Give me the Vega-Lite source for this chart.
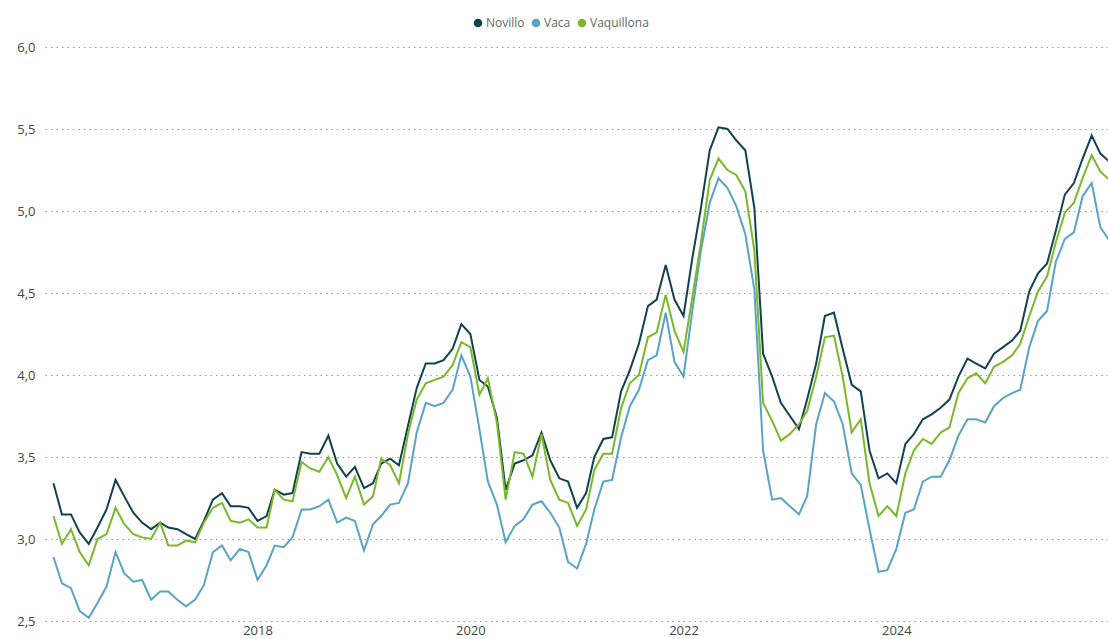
{
  "$schema": "https://vega.github.io/schema/vega-lite/v6.json",
  "width": 1063,
  "height": 574,
  "autosize": {"type": "none"},
  "padding": {"left": 45, "top": 47, "right": 0, "bottom": 18},
  "background": "white",
  "data": {"values": [
    {"mes":"2016-02-01","Novillo":3.34,"Vaca":2.89,"Vaquillona":3.14},
    {"mes":"2016-03-01","Novillo":3.15,"Vaca":2.73,"Vaquillona":2.97},
    {"mes":"2016-04-01","Novillo":3.15,"Vaca":2.70,"Vaquillona":3.06},
    {"mes":"2016-05-01","Novillo":3.04,"Vaca":2.56,"Vaquillona":2.92},
    {"mes":"2016-06-01","Novillo":2.97,"Vaca":2.52,"Vaquillona":2.84},
    {"mes":"2016-07-01","Novillo":3.07,"Vaca":2.61,"Vaquillona":3.00},
    {"mes":"2016-08-01","Novillo":3.18,"Vaca":2.71,"Vaquillona":3.03},
    {"mes":"2016-09-01","Novillo":3.36,"Vaca":2.92,"Vaquillona":3.19},
    {"mes":"2016-10-01","Novillo":3.26,"Vaca":2.79,"Vaquillona":3.09},
    {"mes":"2016-11-01","Novillo":3.16,"Vaca":2.74,"Vaquillona":3.03},
    {"mes":"2016-12-01","Novillo":3.10,"Vaca":2.75,"Vaquillona":3.01},
    {"mes":"2017-01-01","Novillo":3.06,"Vaca":2.63,"Vaquillona":3.00},
    {"mes":"2017-02-01","Novillo":3.10,"Vaca":2.68,"Vaquillona":3.10},
    {"mes":"2017-03-01","Novillo":3.07,"Vaca":2.68,"Vaquillona":2.96},
    {"mes":"2017-04-01","Novillo":3.06,"Vaca":2.63,"Vaquillona":2.96},
    {"mes":"2017-05-01","Novillo":3.03,"Vaca":2.59,"Vaquillona":2.99},
    {"mes":"2017-06-01","Novillo":3.00,"Vaca":2.63,"Vaquillona":2.98},
    {"mes":"2017-07-01","Novillo":3.11,"Vaca":2.72,"Vaquillona":3.10},
    {"mes":"2017-08-01","Novillo":3.24,"Vaca":2.92,"Vaquillona":3.19},
    {"mes":"2017-09-01","Novillo":3.28,"Vaca":2.96,"Vaquillona":3.22},
    {"mes":"2017-10-01","Novillo":3.20,"Vaca":2.87,"Vaquillona":3.11},
    {"mes":"2017-11-01","Novillo":3.20,"Vaca":2.94,"Vaquillona":3.10},
    {"mes":"2017-12-01","Novillo":3.19,"Vaca":2.92,"Vaquillona":3.12},
    {"mes":"2018-01-01","Novillo":3.11,"Vaca":2.75,"Vaquillona":3.07},
    {"mes":"2018-02-01","Novillo":3.14,"Vaca":2.84,"Vaquillona":3.07},
    {"mes":"2018-03-01","Novillo":3.30,"Vaca":2.96,"Vaquillona":3.30},
    {"mes":"2018-04-01","Novillo":3.27,"Vaca":2.95,"Vaquillona":3.24},
    {"mes":"2018-05-01","Novillo":3.28,"Vaca":3.01,"Vaquillona":3.23},
    {"mes":"2018-06-01","Novillo":3.53,"Vaca":3.18,"Vaquillona":3.47},
    {"mes":"2018-07-01","Novillo":3.52,"Vaca":3.18,"Vaquillona":3.43},
    {"mes":"2018-08-01","Novillo":3.52,"Vaca":3.20,"Vaquillona":3.41},
    {"mes":"2018-09-01","Novillo":3.63,"Vaca":3.24,"Vaquillona":3.50},
    {"mes":"2018-10-01","Novillo":3.46,"Vaca":3.10,"Vaquillona":3.39},
    {"mes":"2018-11-01","Novillo":3.38,"Vaca":3.13,"Vaquillona":3.25},
    {"mes":"2018-12-01","Novillo":3.44,"Vaca":3.11,"Vaquillona":3.38},
    {"mes":"2019-01-01","Novillo":3.31,"Vaca":2.93,"Vaquillona":3.21},
    {"mes":"2019-02-01","Novillo":3.34,"Vaca":3.09,"Vaquillona":3.26},
    {"mes":"2019-03-01","Novillo":3.46,"Vaca":3.14,"Vaquillona":3.49},
    {"mes":"2019-04-01","Novillo":3.49,"Vaca":3.21,"Vaquillona":3.45},
    {"mes":"2019-05-01","Novillo":3.45,"Vaca":3.22,"Vaquillona":3.34},
    {"mes":"2019-06-01","Novillo":3.69,"Vaca":3.34,"Vaquillona":3.64},
    {"mes":"2019-07-01","Novillo":3.92,"Vaca":3.65,"Vaquillona":3.85},
    {"mes":"2019-08-01","Novillo":4.07,"Vaca":3.83,"Vaquillona":3.95},
    {"mes":"2019-09-01","Novillo":4.07,"Vaca":3.81,"Vaquillona":3.97},
    {"mes":"2019-10-01","Novillo":4.09,"Vaca":3.83,"Vaquillona":3.99},
    {"mes":"2019-11-01","Novillo":4.16,"Vaca":3.91,"Vaquillona":4.06},
    {"mes":"2019-12-01","Novillo":4.31,"Vaca":4.12,"Vaquillona":4.20},
    {"mes":"2020-01-01","Novillo":4.25,"Vaca":3.99,"Vaquillona":4.17},
    {"mes":"2020-02-01","Novillo":3.97,"Vaca":3.67,"Vaquillona":3.88},
    {"mes":"2020-03-01","Novillo":3.93,"Vaca":3.35,"Vaquillona":3.98},
    {"mes":"2020-04-01","Novillo":3.74,"Vaca":3.21,"Vaquillona":3.71},
    {"mes":"2020-05-01","Novillo":3.30,"Vaca":2.98,"Vaquillona":3.24},
    {"mes":"2020-06-01","Novillo":3.46,"Vaca":3.08,"Vaquillona":3.53},
    {"mes":"2020-07-01","Novillo":3.48,"Vaca":3.12,"Vaquillona":3.52},
    {"mes":"2020-08-01","Novillo":3.51,"Vaca":3.21,"Vaquillona":3.38},
    {"mes":"2020-09-01","Novillo":3.65,"Vaca":3.23,"Vaquillona":3.64},
    {"mes":"2020-10-01","Novillo":3.48,"Vaca":3.16,"Vaquillona":3.36},
    {"mes":"2020-11-01","Novillo":3.37,"Vaca":3.07,"Vaquillona":3.24},
    {"mes":"2020-12-01","Novillo":3.35,"Vaca":2.86,"Vaquillona":3.22},
    {"mes":"2021-01-01","Novillo":3.19,"Vaca":2.82,"Vaquillona":3.08},
    {"mes":"2021-02-01","Novillo":3.28,"Vaca":2.97,"Vaquillona":3.18},
    {"mes":"2021-03-01","Novillo":3.50,"Vaca":3.18,"Vaquillona":3.42},
    {"mes":"2021-04-01","Novillo":3.61,"Vaca":3.35,"Vaquillona":3.52},
    {"mes":"2021-05-01","Novillo":3.62,"Vaca":3.36,"Vaquillona":3.52},
    {"mes":"2021-06-01","Novillo":3.90,"Vaca":3.62,"Vaquillona":3.80},
    {"mes":"2021-07-01","Novillo":4.03,"Vaca":3.81,"Vaquillona":3.95},
    {"mes":"2021-08-01","Novillo":4.19,"Vaca":3.91,"Vaquillona":4.00},
    {"mes":"2021-09-01","Novillo":4.42,"Vaca":4.09,"Vaquillona":4.23},
    {"mes":"2021-10-01","Novillo":4.46,"Vaca":4.12,"Vaquillona":4.26},
    {"mes":"2021-11-01","Novillo":4.67,"Vaca":4.38,"Vaquillona":4.49},
    {"mes":"2021-12-01","Novillo":4.46,"Vaca":4.08,"Vaquillona":4.27},
    {"mes":"2022-01-01","Novillo":4.36,"Vaca":3.99,"Vaquillona":4.14},
    {"mes":"2022-02-01","Novillo":4.72,"Vaca":4.40,"Vaquillona":4.48},
    {"mes":"2022-03-01","Novillo":5.01,"Vaca":4.75,"Vaquillona":4.80},
    {"mes":"2022-04-01","Novillo":5.37,"Vaca":5.05,"Vaquillona":5.19},
    {"mes":"2022-05-01","Novillo":5.51,"Vaca":5.20,"Vaquillona":5.32},
    {"mes":"2022-06-01","Novillo":5.50,"Vaca":5.14,"Vaquillona":5.25},
    {"mes":"2022-07-01","Novillo":5.43,"Vaca":5.03,"Vaquillona":5.22},
    {"mes":"2022-08-01","Novillo":5.37,"Vaca":4.86,"Vaquillona":5.12},
    {"mes":"2022-09-01","Novillo":5.02,"Vaca":4.52,"Vaquillona":4.76},
    {"mes":"2022-10-01","Novillo":4.13,"Vaca":3.54,"Vaquillona":3.83},
    {"mes":"2022-11-01","Novillo":3.99,"Vaca":3.24,"Vaquillona":3.72},
    {"mes":"2022-12-01","Novillo":3.83,"Vaca":3.25,"Vaquillona":3.60},
    {"mes":"2023-01-01","Novillo":3.75,"Vaca":3.20,"Vaquillona":3.64},
    {"mes":"2023-02-01","Novillo":3.67,"Vaca":3.15,"Vaquillona":3.70},
    {"mes":"2023-03-01","Novillo":3.85,"Vaca":3.26,"Vaquillona":3.78},
    {"mes":"2023-04-01","Novillo":4.07,"Vaca":3.70,"Vaquillona":3.99},
    {"mes":"2023-05-01","Novillo":4.36,"Vaca":3.89,"Vaquillona":4.23},
    {"mes":"2023-06-01","Novillo":4.38,"Vaca":3.84,"Vaquillona":4.24},
    {"mes":"2023-07-01","Novillo":4.16,"Vaca":3.70,"Vaquillona":3.99},
    {"mes":"2023-08-01","Novillo":3.94,"Vaca":3.40,"Vaquillona":3.65},
    {"mes":"2023-09-01","Novillo":3.90,"Vaca":3.33,"Vaquillona":3.73},
    {"mes":"2023-10-01","Novillo":3.54,"Vaca":3.06,"Vaquillona":3.34},
    {"mes":"2023-11-01","Novillo":3.37,"Vaca":2.80,"Vaquillona":3.14},
    {"mes":"2023-12-01","Novillo":3.40,"Vaca":2.81,"Vaquillona":3.20},
    {"mes":"2024-01-01","Novillo":3.34,"Vaca":2.94,"Vaquillona":3.14},
    {"mes":"2024-02-01","Novillo":3.58,"Vaca":3.16,"Vaquillona":3.40},
    {"mes":"2024-03-01","Novillo":3.64,"Vaca":3.18,"Vaquillona":3.54},
    {"mes":"2024-04-01","Novillo":3.73,"Vaca":3.35,"Vaquillona":3.61},
    {"mes":"2024-05-01","Novillo":3.76,"Vaca":3.38,"Vaquillona":3.58},
    {"mes":"2024-06-01","Novillo":3.80,"Vaca":3.38,"Vaquillona":3.65},
    {"mes":"2024-07-01","Novillo":3.85,"Vaca":3.48,"Vaquillona":3.68},
    {"mes":"2024-08-01","Novillo":3.99,"Vaca":3.63,"Vaquillona":3.89},
    {"mes":"2024-09-01","Novillo":4.10,"Vaca":3.73,"Vaquillona":3.98},
    {"mes":"2024-10-01","Novillo":4.07,"Vaca":3.73,"Vaquillona":4.01},
    {"mes":"2024-11-01","Novillo":4.04,"Vaca":3.71,"Vaquillona":3.95},
    {"mes":"2024-12-01","Novillo":4.13,"Vaca":3.81,"Vaquillona":4.05},
    {"mes":"2025-01-01","Novillo":4.17,"Vaca":3.86,"Vaquillona":4.08},
    {"mes":"2025-02-01","Novillo":4.21,"Vaca":3.89,"Vaquillona":4.12},
    {"mes":"2025-03-01","Novillo":4.27,"Vaca":3.91,"Vaquillona":4.19},
    {"mes":"2025-04-01","Novillo":4.51,"Vaca":4.17,"Vaquillona":4.36},
    {"mes":"2025-05-01","Novillo":4.62,"Vaca":4.33,"Vaquillona":4.51},
    {"mes":"2025-06-01","Novillo":4.68,"Vaca":4.39,"Vaquillona":4.60},
    {"mes":"2025-07-01","Novillo":4.88,"Vaca":4.69,"Vaquillona":4.81},
    {"mes":"2025-08-01","Novillo":5.10,"Vaca":4.83,"Vaquillona":4.99},
    {"mes":"2025-09-01","Novillo":5.17,"Vaca":4.87,"Vaquillona":5.05},
    {"mes":"2025-10-01","Novillo":5.32,"Vaca":5.09,"Vaquillona":5.20},
    {"mes":"2025-11-01","Novillo":5.46,"Vaca":5.17,"Vaquillona":5.34},
    {"mes":"2025-12-01","Novillo":5.35,"Vaca":4.90,"Vaquillona":5.24},
    {"mes":"2026-01-01","Novillo":5.30,"Vaca":4.82,"Vaquillona":5.19}
  ]},
  "transform": [{"fold": ["Novillo", "Vaca", "Vaquillona"], "as": ["serie", "valor"]}],
  "mark": {"type": "line", "strokeWidth": 2, "clip": true},
  "encoding": {
    "x": {
      "field": "mes",
      "type": "temporal",
      "scale": {"type": "utc", "domain": [{"year": 2016, "month": 1, "date": 3, "utc": true}, {"year": 2025, "month": 12, "date": 27, "utc": true}]},
      "axis": {
        "values": [{"year": 2018, "month": 1, "date": 1, "utc": true}, {"year": 2020, "month": 1, "date": 1, "utc": true}, {"year": 2022, "month": 1, "date": 1, "utc": true}, {"year": 2024, "month": 1, "date": 1, "utc": true}],
        "format": "%Y",
        "formatType": "utc",
        "title": null,
        "grid": false,
        "ticks": false,
        "domain": false,
        "labelPadding": 3,
        "labelFlush": false,
        "labelFont": "Open Sans",
        "labelFontSize": 13,
        "labelColor": "#444444"
      }
    },
    "y": {
      "field": "valor",
      "type": "quantitative",
      "scale": {"domain": [2.5, 6], "nice": false, "zero": false},
      "axis": {
        "values": [2.5, 3, 3.5, 4, 4.5, 5, 5.5, 6],
        "labelExpr": "replace(format(datum.value, '.1f'), '.', ',')",
        "title": null,
        "grid": true,
        "gridDash": [1.5, 4],
        "gridColor": "#999999",
        "gridWidth": 1,
        "ticks": false,
        "domain": false,
        "labelPadding": 10,
        "labelFont": "Open Sans",
        "labelFontSize": 13,
        "labelColor": "#444444"
      }
    },
    "color": {
      "field": "serie",
      "type": "nominal",
      "scale": {"domain": ["Novillo", "Vaca", "Vaquillona"], "range": ["#12414f", "#59a3c4", "#79b82a"]},
      "legend": {
        "title": null,
        "orient": "none",
        "direction": "horizontal",
        "legendX": 427,
        "legendY": -30,
        "symbolType": "circle",
        "symbolSize": 75,
        "symbolStrokeWidth": 0,
        "labelOffset": 2,
        "columnPadding": 5,
        "labelFont": "Open Sans",
        "labelFontSize": 12,
        "labelColor": "#666666",
        "encode": {
          "symbols": {
            "update": {
              "fill": {"scale": "color", "field": "value"},
              "fillOpacity": {"value": 1},
              "strokeWidth": {"value": 0}
            }
          }
        }
      }
    }
  },
  "config": {"view": {"stroke": null}}
}
